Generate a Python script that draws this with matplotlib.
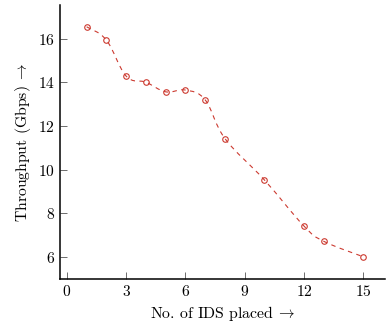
import numpy as np
import matplotlib.pyplot as plt
from matplotlib.path import Path
from matplotlib.patches import PathPatch

plt.rcParams['font.family'] = 'serif'
plt.rcParams['font.serif'] = ['cmr10']
plt.rcParams['mathtext.fontset'] = 'cm'
plt.rcParams['axes.formatter.use_mathtext'] = True

# Data
ids_placed = [1, 2, 3, 4, 5, 6, 7, 8, 10, 12, 13, 15]
throughput = [16.55, 15.94, 14.29, 14.01, 13.57, 13.65, 13.2, 11.43, 9.53, 7.42, 6.72, 6.01]
xticks = [0, 3, 6, 9, 12, 15]
yticks = [6, 8, 10, 12, 14, 16]

red = '#cc3a30'

fig = plt.figure(figsize=(3.88, 3.24), dpi=100)
ax = fig.add_axes([0.1546, 0.1389, 0.8374, 0.8457])

# smooth line like pgfplots "smooth" (Bezier through the points)
x = np.array(ids_placed, dtype=float)
y = np.array(throughput, dtype=float)
t = 0.55 / 3.0
verts = [(x[0], y[0])]
codes = [Path.MOVETO]
for i in range(len(x) - 1):
    x0, y0 = (x[i - 1], y[i - 1]) if i > 0 else (x[i], y[i])
    x3, y3 = (x[i + 2], y[i + 2]) if i + 2 < len(x) else (x[i + 1], y[i + 1])
    c1 = (x[i] + t * (x[i + 1] - x0), y[i] + t * (y[i + 1] - y0))
    c2 = (x[i + 1] - t * (x3 - x[i]), y[i + 1] - t * (y3 - y[i]))
    verts += [c1, c2, (x[i + 1], y[i + 1])]
    codes += [Path.CURVE4, Path.CURVE4, Path.CURVE4]
patch = PathPatch(Path(verts, codes), facecolor='none', edgecolor=red,
                  linewidth=0.8, linestyle=(0, (4, 4)))
ax.add_patch(patch)
ax.plot(ids_placed, throughput, linestyle='none', marker='o', markersize=4,
        markerfacecolor='none', markeredgecolor=red, markeredgewidth=0.8)

ax.set_xlim(-0.35, 16.1)
ax.set_ylim(4.99, 17.55)
ax.set_xticks(xticks)
ax.set_yticks(yticks)

ax.spines['top'].set_visible(False)
ax.spines['right'].set_visible(False)
ax.spines['left'].set_linewidth(1.1)
ax.spines['bottom'].set_linewidth(1.1)
ax.tick_params(direction='in', length=5, width=0.6, color='#555555', labelsize=11.2)

ax.set_xlabel(r'No. of IDS placed$\;\rightarrow$', fontsize=11.3)
ax.set_ylabel(r'Throughput (Gbps)$\;\rightarrow$', fontsize=11.3)

fig.savefig('out.png', dpi=100)
